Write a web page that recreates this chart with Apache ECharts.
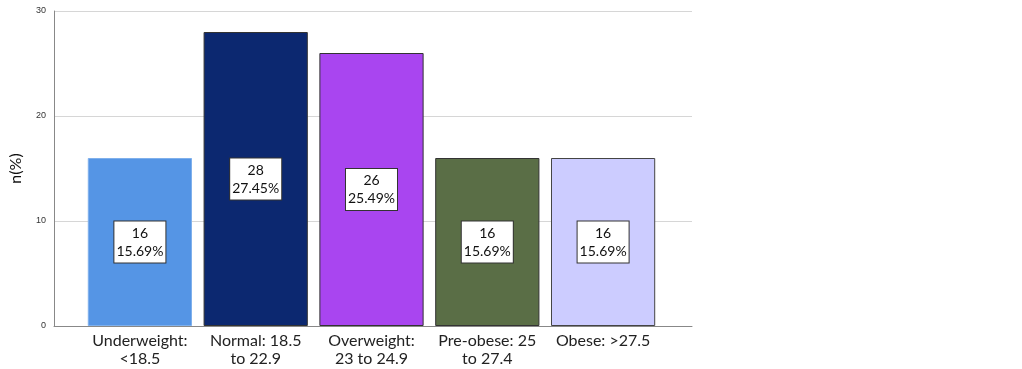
<!DOCTYPE html>
<html><head><meta charset="utf-8">
<script src="https://cdn.jsdelivr.net/npm/echarts@6/dist/echarts.min.js"></script>
<style>html,body{margin:0;padding:0;background:#fff}#c{width:1022px;height:369px}</style>
</head><body><div id="c"></div>
<script>
const categories = ["Underweight:\n<18.5", "Normal: 18.5\nto 22.9", "Overweight:\n23 to 24.9", "Pre-obese: 25\nto 27.4", "Obese: >27.5"];
const counts = [16, 28, 26, 16, 16];
const percents = ["15.69%", "27.45%", "25.49%", "15.69%", "15.69%"];
const barColors = ["#5595E5", "#0C2870", "#A945F0", "#5A6E46", "#CCCCFF"];
const borderColors = ["#7FB0EC", "#333333", "#333333", "#333333", "#444444"];
const yTicks = [0, 10, 20, 30];

const chart = echarts.init(document.getElementById('c'));
chart.setOption({
  animation: false,
  grid: [
    {left: 50, right: 330, top: 11, bottom: 43},
    {left: 82, right: 361, top: 11, bottom: 43}
  ],
  xAxis: [
    {gridIndex: 0, type: 'category', data: [''], axisLine: {lineStyle: {color: '#888', width: 1}}, axisTick: {show: false}, axisLabel: {show: false}},
    {gridIndex: 1, type: 'category', data: categories, axisLine: {show: false}, axisTick: {show: false},
     axisLabel: {margin: 6, fontFamily: 'Lato, "Open Sans", sans-serif', fontSize: 16, lineHeight: 18, color: '#222', interval: 0}}
  ],
  yAxis: [
    {gridIndex: 0, type: 'value', min: 0, max: 30, interval: 10,
     name: 'n(%)', nameLocation: 'middle', nameGap: 30, nameRotate: 90,
     nameTextStyle: {fontFamily: 'Lato, "Open Sans", sans-serif', fontSize: 16, color: '#111'},
     axisLine: {show: true, lineStyle: {color: '#888'}}, axisTick: {show: false},
     axisLabel: {fontFamily: 'Arial, "Liberation Sans", sans-serif', fontSize: 9, color: '#333', margin: 8,
       formatter: v => yTicks.includes(v) ? String(v) : ''},
     splitLine: {show: true, lineStyle: {color: '#D6D6D6', width: 1}}},
    {gridIndex: 1, type: 'value', min: 0, max: 30, interval: 10, show: false}
  ],
  series: [{
    type: 'bar', xAxisIndex: 1, yAxisIndex: 1,
    barCategoryGap: '10%',
    data: counts.map((v, i) => ({value: v, itemStyle: {color: barColors[i], borderColor: borderColors[i], borderWidth: 1}})),
    label: {
      show: true, position: 'inside',
      formatter: p => counts[p.dataIndex] + '\n' + percents[p.dataIndex],
      backgroundColor: '#fff', borderColor: '#333', borderWidth: 1,
      padding: [3, 2, 2, 2], color: '#111',
      fontFamily: 'Lato, "Open Sans", sans-serif', fontSize: 14, lineHeight: 18
    }
  }]
});
</script></body></html>
